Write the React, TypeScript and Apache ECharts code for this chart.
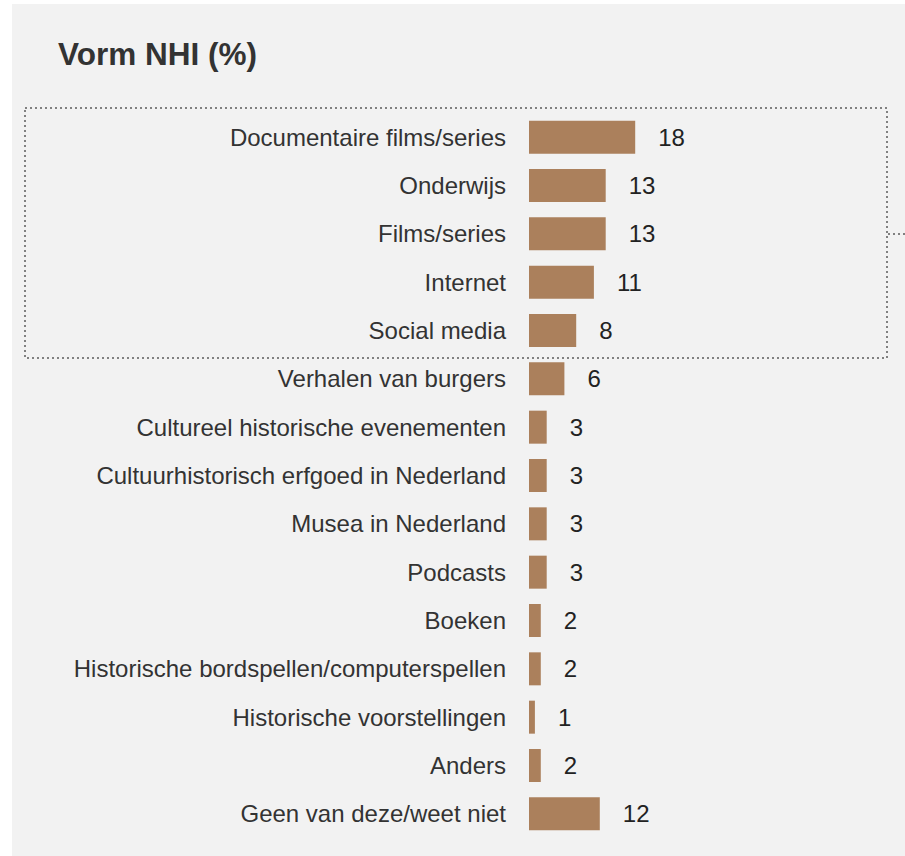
import React, { useEffect, useRef } from "react";
import * as echarts from "echarts";

const categories = [
  "Documentaire films/series",
  "Onderwijs",
  "Films/series",
  "Internet",
  "Social media",
  "Verhalen van burgers",
  "Cultureel historische evenementen",
  "Cultuurhistorisch erfgoed in Nederland",
  "Musea in Nederland",
  "Podcasts",
  "Boeken",
  "Historische bordspellen/computerspellen",
  "Historische voorstellingen",
  "Anders",
  "Geen van deze/weet niet",
];
const values = [18, 13, 13, 11, 8, 6, 3, 3, 3, 3, 2, 2, 1, 2, 12];
const titleText = "Vorm NHI (%)";

const FONT = "'Liberation Sans', Arial, Helvetica, sans-serif";

export default function App() {
  const ref = useRef<HTMLDivElement>(null);
  useEffect(() => {
    if (!ref.current) return;
    const chart = echarts.init(ref.current, undefined, { renderer: "svg" });
    chart.setOption({
      animation: false,
      backgroundColor: "#ffffff",
      graphic: [
        {
          type: "rect",
          z: -10,
          silent: true,
          shape: { x: 12, y: 4, width: 893, height: 852 },
          style: { fill: "#f2f2f2" },
        },
        {
          type: "text",
          x: 58,
          y: 38,
          style: {
            text: titleText,
            font: `bold 31.5px ${FONT}`,
            fill: "#333333",
          },
        },
        {
          type: "rect",
          z: 5,
          silent: true,
          shape: { x: 25, y: 108, width: 862, height: 250 },
          style: { fill: "none", stroke: "#808080", lineWidth: 2, lineDash: [2, 3] },
        },
        {
          type: "line",
          z: 5,
          silent: true,
          shape: { x1: 888, y1: 234, x2: 905, y2: 234 },
          style: { stroke: "#808080", lineWidth: 2, lineDash: [2, 3] },
        },
      ],
      grid: { left: 529, top: 113, width: 177, height: 725 },
      xAxis: {
        type: "value",
        min: 0,
        max: 30,
        show: false,
        splitLine: { show: false },
      },
      yAxis: {
        type: "category",
        data: categories,
        inverse: true,
        axisLine: { show: false },
        axisTick: { show: false },
        axisLabel: {
          margin: 23,
          fontSize: 24,
          fontFamily: FONT,
          color: "#333333",
        },
      },
      series: [
        {
          type: "bar",
          data: values,
          barWidth: 33,
          itemStyle: { color: "#ab805c" },
          label: {
            show: true,
            position: "right",
            distance: 23,
            fontSize: 24,
            fontFamily: FONT,
            color: "#222222",
          },
        },
      ],
    });
    return () => chart.dispose();
  }, []);
  return (
    <div
      ref={ref}
      style={{ position: "fixed", left: 0, top: 0, width: 905, height: 856 }}
    />
  );
}
